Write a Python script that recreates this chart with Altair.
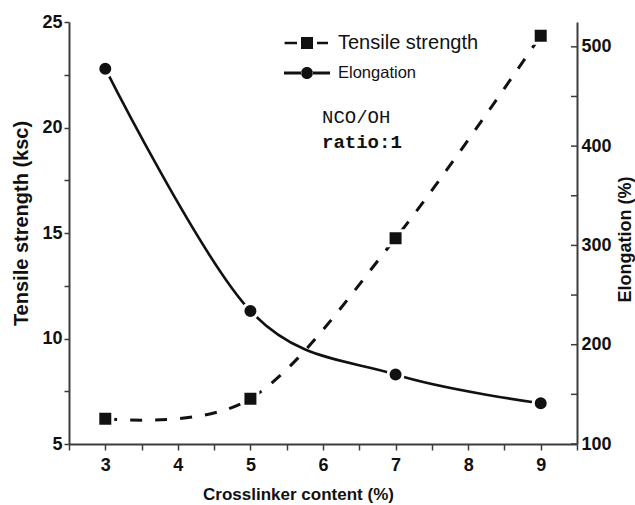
import altair as alt
import pandas as pd

# ---------------- data ----------------
crosslinker = [3, 5, 7, 9]
tensile = [6.2, 7.15, 14.75, 24.35]
elongation = [478, 234, 170, 141]
series_names = ["Tensile strength", "Elongation"]

x_ticks = [2.5, 3, 3.5, 4, 4.5, 5, 5.5, 6, 6.5, 7, 7.5, 8, 8.5, 9, 9.5]
left_ticks = [5, 7.5, 10, 12.5, 15, 17.5, 20, 22.5, 25]
right_ticks = [100, 150, 200, 250, 300, 350, 400, 450, 500]
note_lines = ["NCO/OH", "ratio:1"]

# ---------------- style ----------------
W, H = 508, 422
PAD = {"left": 69, "top": 22, "right": 58, "bottom": 61}
INK = "#111111"
AXC = "#3c3c3c"
NARROW = "'Liberation Sans Narrow', 'Arial Narrow', 'Liberation Sans', Arial, sans-serif"
SANS = "'Liberation Sans', Arial, sans-serif"
MONO = "'Liberation Mono', 'Courier New', monospace"

axis_style = dict(
    grid=False, domainColor=AXC, domainWidth=2, tickColor=AXC, tickWidth=1.5,
    labelFont=NARROW, labelFontWeight="bold", labelFontSize=18, labelColor=INK,
    titleFont=SANS, titleFontWeight="bold", titleColor=INK,
    titleAlign="center", titleBaseline="alphabetic",
)

df_t = pd.DataFrame({"x": crosslinker, "ts": tensile})
df_e = pd.DataFrame({"x": crosslinker, "el": elongation})
df_rt = pd.DataFrame({"el": right_ticks})
df_leg = pd.DataFrame({"series": series_names})

x_enc = alt.X(
    "x:Q",
    scale=alt.Scale(domain=[2.5, 9.5], nice=False, zero=False),
    axis=alt.Axis(
        values=x_ticks, labelExpr="datum.value % 1 == 0 ? format(datum.value, 'd') : ''",
        tickSize=6, labelPadding=6, title="Crosslinker content (%)",
        titleX=229, titleY=55, titleFontSize=17, **axis_style,
    ),
)

yl_enc = alt.Y(
    "ts:Q",
    scale=alt.Scale(domain=[5, 25], nice=False, zero=False),
    axis=alt.Axis(
        orient="left", values=left_ticks,
        labelExpr="datum.value % 5 == 0 ? format(datum.value, 'd') : ''",
        tickSize=5, labelPadding=2, title="Tensile strength (ksc)",
        titleX=-42, titleY=201, titleAngle=270, titleFontSize=20, **axis_style,
    ),
)

yr_enc = alt.Y(
    "el:Q",
    scale=alt.Scale(domain=[100, 525], nice=False, zero=False),
    axis=alt.Axis(
        orient="right", values=right_ticks,
        labelExpr="datum.value % 100 == 0 ? format(datum.value, 'd') : ''",
        ticks=False, labelPadding=4, title="Elongation (%)",
        titleX=53, titleY=217, titleAngle=270, titleFontSize=18, **axis_style,
    ),
)

# ---------------- tensile strength (left axis) ----------------
t_line = alt.Chart(df_t).mark_line(
    interpolate="cardinal", strokeDash=[12, 13], strokeWidth=3, color=INK, strokeCap="butt"
).encode(x=x_enc, y=yl_enc)
t_pts = alt.Chart(df_t).mark_point(
    shape="square", filled=True, size=225, fill=INK, stroke="white", strokeWidth=3, opacity=1
).encode(x=x_enc, y=yl_enc)
tensile_layer = alt.layer(t_line, t_pts)

# ---------------- elongation (right axis) ----------------
e_line = alt.Chart(df_e).mark_line(
    interpolate="cardinal", strokeWidth=2.6, color=INK
).encode(x=x_enc, y=yr_enc)
e_ticks = alt.Chart(df_rt).mark_rule(color=AXC, strokeWidth=1.5).encode(
    y=yr_enc, x=alt.value(W - 6), x2=alt.value(W)
)
e_pts = alt.Chart(df_e).mark_point(
    shape="circle", filled=True, size=225, fill=INK, stroke="white", strokeWidth=3, opacity=1
).encode(x=x_enc, y=yr_enc)
elong_layer = alt.layer(e_line, e_ticks, e_pts)

# ---------------- legend ----------------
sym_tensile = (
    "M-1.12,-0.06H-0.5V0.06H-1.12Z "
    "M-0.3,-0.3H0.3V0.3H-0.3Z "
    "M0.5,-0.06H1.05V0.06H0.5Z"
)
sym_elong = (
    "M-1.15,-0.07H-0.28V0.07H-1.15Z "
    "M-0.3,0A0.3,0.3,0,1,0,0.3,0A0.3,0.3,0,1,0,-0.3,0Z "
    "M0.28,-0.07H1.15V0.07H0.28Z"
)
legend_layer = alt.Chart(df_leg).mark_point(filled=True, opacity=0, color=INK).encode(
    x=alt.value(0),
    y=alt.value(0),
    shape=alt.Shape(
        "series:N",
        scale=alt.Scale(domain=series_names, range=[sym_tensile, sym_elong]),
        legend=alt.Legend(
            orient="none", legendX=218, legendY=1, title=None, padding=0,
            symbolSize=1600, symbolOpacity=1, symbolFillColor=INK,
            symbolStrokeWidth=0, labelOffset=11, rowPadding=0,
            labelFont=NARROW, labelColor=INK, labelLimit=0,
            labelFontSize={"expr": "datum.label == 'Tensile strength' ? 20 : 16.5"},
        ),
    ),
)

# ---------------- annotation ----------------
note1 = alt.Chart(pd.DataFrame({"t": [note_lines[0]]})).mark_text(
    font=MONO, fontSize=19, align="left", baseline="alphabetic", color=INK
).encode(text="t:N", x=alt.value(253), y=alt.value(101))
note2 = alt.Chart(pd.DataFrame({"t": [note_lines[1]]})).mark_text(
    font=MONO, fontSize=19, fontWeight="bold", align="left", baseline="alphabetic", color=INK
).encode(text="t:N", x=alt.value(253), y=alt.value(126))

chart = (
    alt.layer(tensile_layer, elong_layer, legend_layer, note1, note2)
    .resolve_scale(y="independent")
    .properties(
        width=W, height=H,
        autosize=alt.AutoSizeParams(type="none"),
        padding=PAD, background="white",
    )
    .configure_view(strokeWidth=0)
)

chart.save("out.html", embed_options={"renderer": "svg", "actions": False})
